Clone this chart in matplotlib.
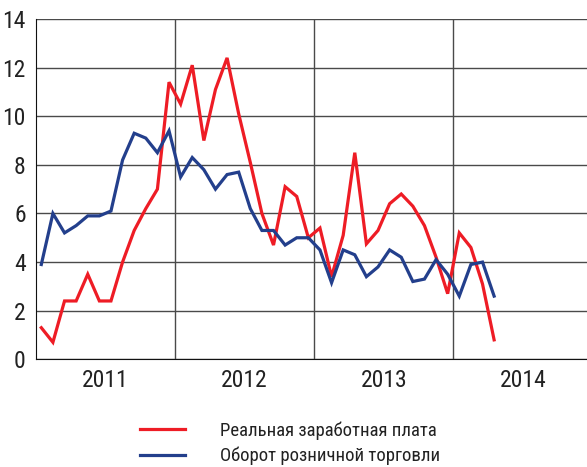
import matplotlib
matplotlib.use("Agg")
import matplotlib.pyplot as plt
from matplotlib.lines import Line2D

plt.rcParams['font.family'] = ['Roboto Condensed', 'Archivo Narrow', 'Sofia Sans Condensed', 'DejaVu Sans']

# monthly values, Jan 2011 .. Apr 2014
wages = [1.3, 0.7, 2.4, 2.4, 3.5, 2.4, 2.4, 4.0, 5.3, 6.2, 7.0, 11.4,
         10.5, 12.1, 9.0, 11.1, 12.4, 10.1, 8.1, 6.0, 4.7, 7.1, 6.7, 5.0,
         5.4, 3.4, 5.1, 8.5, 4.75, 5.3, 6.4, 6.8, 6.3, 5.5, 4.2, 2.7,
         5.2, 4.6, 3.1, 0.8]
retail = [3.9, 6.0, 5.2, 5.5, 5.9, 5.9, 6.1, 8.2, 9.3, 9.1, 8.5, 9.4,
          7.5, 8.3, 7.8, 7.0, 7.6, 7.7, 6.2, 5.3, 5.3, 4.7, 5.0, 5.0,
          4.5, 3.15, 4.5, 4.3, 3.4, 3.8, 4.5, 4.2, 3.2, 3.3, 4.1, 3.5,
          2.6, 3.9, 4.0, 2.6]
years = ['2011', '2012', '2013', '2014']
labels = ['Реальная заработная плата', 'Оборот розничной торговли']

RED = '#ee1c25'
BLUE = '#233f8c'

fig = plt.figure(figsize=(5.87, 4.67), dpi=100)
ax = fig.add_axes([35.5 / 587, 1 - 359.3 / 467, 1 - 35.5 / 587, (359.3 - 19) / 467])

months = [i + 0.5 for i in range(len(wages))]
ax.plot(months, wages, color=RED, lw=2.3, solid_joinstyle='miter')
ax.plot(months, retail, color=BLUE, lw=2.3, solid_joinstyle='miter')

ax.set_xlim(0, 47.5)
ax.set_ylim(0, 14)
ax.set_yticks(range(0, 15, 2))
ax.set_xticks([12, 24, 36])
ax.set_xticklabels([])
ax.set_xticks([6, 18, 30, 42], minor=True)
ax.set_xticklabels(years, minor=True)
ax.tick_params(axis='both', which='both', length=0, labelsize=17, colors='#222222')
ax.tick_params(axis='y', pad=7)
ax.tick_params(axis='x', which='minor', pad=7)

ax.grid(True, which='major', color='#4a4a4a', lw=1)
ax.set_axisbelow(True)
for side in ('top', 'right'):
    ax.spines[side].set_visible(False)
ax.spines['left'].set_color('#111111')
ax.spines['bottom'].set_color('#111111')

handles = [Line2D([], [], color=RED, lw=2.3), Line2D([], [], color=BLUE, lw=2.3)]
fig.legend(handles, labels, loc='upper left', bbox_to_anchor=(132 / 587, 1 - 414 / 467),
           frameon=False, fontsize=13.5, handlelength=2.4, handletextpad=1.9,
           labelspacing=0.35, borderaxespad=0, labelcolor='#222222')

fig.savefig('out.png', dpi=100)
